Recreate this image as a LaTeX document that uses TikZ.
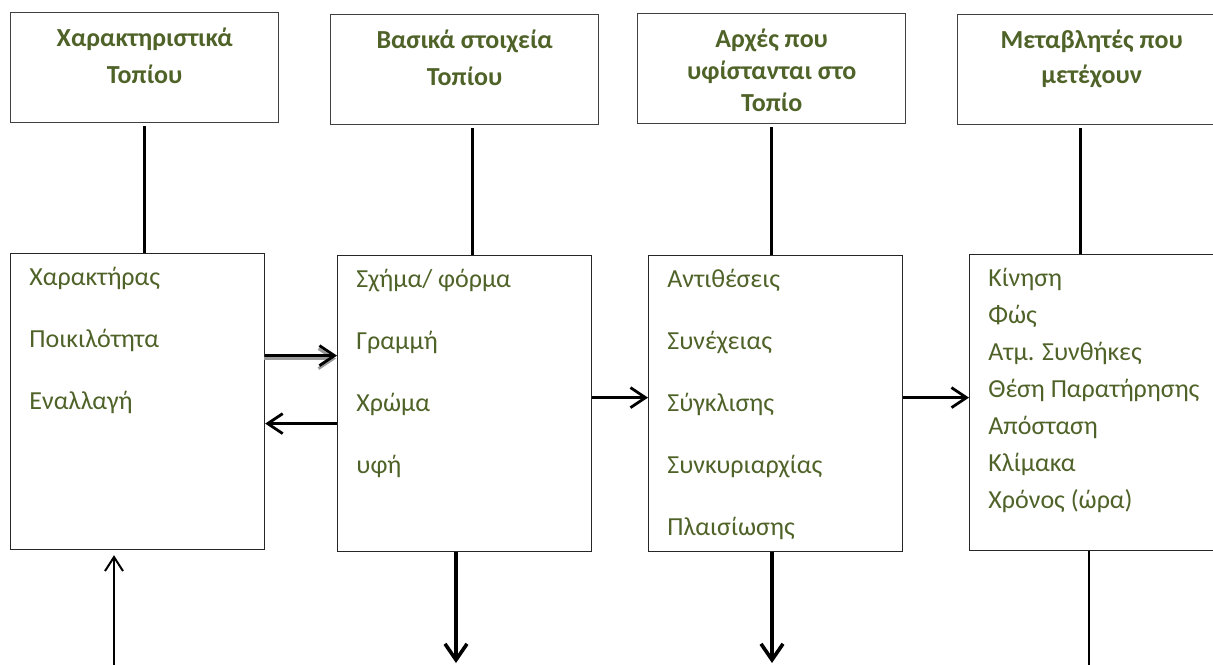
\documentclass[tikz,border=0pt]{standalone}
\usepackage{fontspec}
\setmainfont{Carlito}
\usepackage{tikz}
\usetikzlibrary{arrows.meta}
\definecolor{textgreen}{HTML}{4F6228}

\tikzset{
    topbox/.style={draw=black!75, line width=0.7pt, minimum width=134pt, minimum height=55pt, anchor=north west, inner sep=0pt},
    lowbox/.style={draw=black!85, line width=0.6pt, minimum width=127pt, minimum height=148pt, anchor=north west, inner sep=0pt},
    title/.style={text=textgreen, font=\bfseries\fontsize{13}{18.5}\selectfont, align=center, anchor=north, inner sep=0pt},
    items/.style={text=textgreen, font=\fontsize{13}{31}\selectfont, align=left, anchor=north west, inner sep=0pt},
    link/.style={line width=1.5pt, shorten <=1.5pt},
    arr/.style={line width=1.4pt, -{Straight Barb[length=7.5pt,width=10pt,line width=1.4pt]}},
    bigarr/.style={line width=2pt, -{Straight Barb[length=8pt,width=11pt,line width=1.8pt]}},
    thinarr/.style={line width=1pt, -{Straight Barb[length=7pt,width=9pt,line width=1pt]}}
}

\begin{document}
\begin{tikzpicture}[x=0.5pt, y=-0.5pt]
    \clip (0,0) rectangle (1213,664);

    \node[topbox] (t1) at (10,12) {};
    \node[topbox] (t2) at (330,14) {};
    \node[topbox] (t3) at (637,13) {};
    \node[topbox] (t4) at (957,14) {};

    \node[title] (t1txt) at ([yshift=-8pt]t1.north) {Χαρακτηριστικά\\Τοπίου};
    \node[title] (t2txt) at ([yshift=-8pt]t2.north) {Βασικά στοιχεία\\Τοπίου};
    \node[title, font=\bfseries\fontsize{13}{16}\selectfont] (t3txt) at ([yshift=-8pt]t3.north) {Αρχές που\\υφίστανται στο\\Τοπίο};
    \node[title, font=\bfseries\fontsize{13}{17.5}\selectfont] (t4txt) at ([yshift=-8pt]t4.north) {Μεταβλητές που\\μετέχουν};

    \node[lowbox] (b1) at (10,253) {};
    \node[lowbox] (b2) at (337,255) {};
    \node[lowbox] (b3) at (648,255) {};
    \node[lowbox] (b4) at (969,254) {};

    \node[items] (b1txt) at ([shift={(9.5pt,-7pt)}]b1.north west) {Χαρακτήρας\\Ποικιλότητα\\Εναλλαγή};
    \node[items] (b2txt) at ([shift={(9.5pt,-7pt)}]b2.north west) {Σχήμα/ φόρμα\\Γραμμή\\Χρώμα\\υφή};
    \node[items] (b3txt) at ([shift={(9.5pt,-7pt)}]b3.north west) {Αντιθέσεις\\Συνέχειας\\Σύγκλισης\\Συνκυριαρχίας\\Πλαισίωσης};
    \node[items, font=\fontsize{13}{18.5}\selectfont] (b4txt) at ([shift={(9.5pt,-7pt)}]b4.north west) {Κίνηση\\Φώς\\Ατμ. Συνθήκες\\Θέση Παρατήρησης\\Απόσταση\\Κλίμακα\\Χρόνος (ώρα)};

    \draw[link] (t1.south) -- (t1.south |- b1.north);
    \draw[link] ([xshift=4pt]t2.south) -- ([xshift=4pt]t2.south |- b2.north);
    \draw[link] (t3.south) -- (t3.south |- b3.north);
    \draw[link] ([xshift=-5.5pt]t4.south) -- ([xshift=-5.5pt]t4.south |- b4.north);

    \draw[arr, draw=black!40, transform canvas={xshift=-0.5pt, yshift=-1.5pt}] ([yshift=23pt]b1.east) -- ([yshift=23pt]b1.east -| b2.west);
    \draw[arr] ([yshift=23pt]b1.east) -- ([yshift=23pt]b1.east -| b2.west);
    \draw[arr] ([yshift=-10pt]b2.west) -- ([yshift=-10pt]b2.west -| b1.east);
    \draw[arr] ([yshift=3pt]b2.east) -- ([yshift=3pt]b2.east -| b3.west);
    \draw[arr] ([yshift=3pt]b3.east) -- ([yshift=3pt]b3.east -| b4.west);

    \coordinate (u1) at (114,668);
    \coordinate (d2) at (456,663);
    \coordinate (d3) at (772,663);
    \coordinate (d4) at (1089,668);

    \draw[thinarr, shorten >=2.5pt] (u1) -- (u1 |- b1.south);
    \draw[bigarr] (b2.south -| d2) -- (d2);
    \draw[bigarr] (b3.south -| d3) -- (d3);
    \draw[line width=0.8pt] (b4.south -| d4) -- (d4);
\end{tikzpicture}
\end{document}
